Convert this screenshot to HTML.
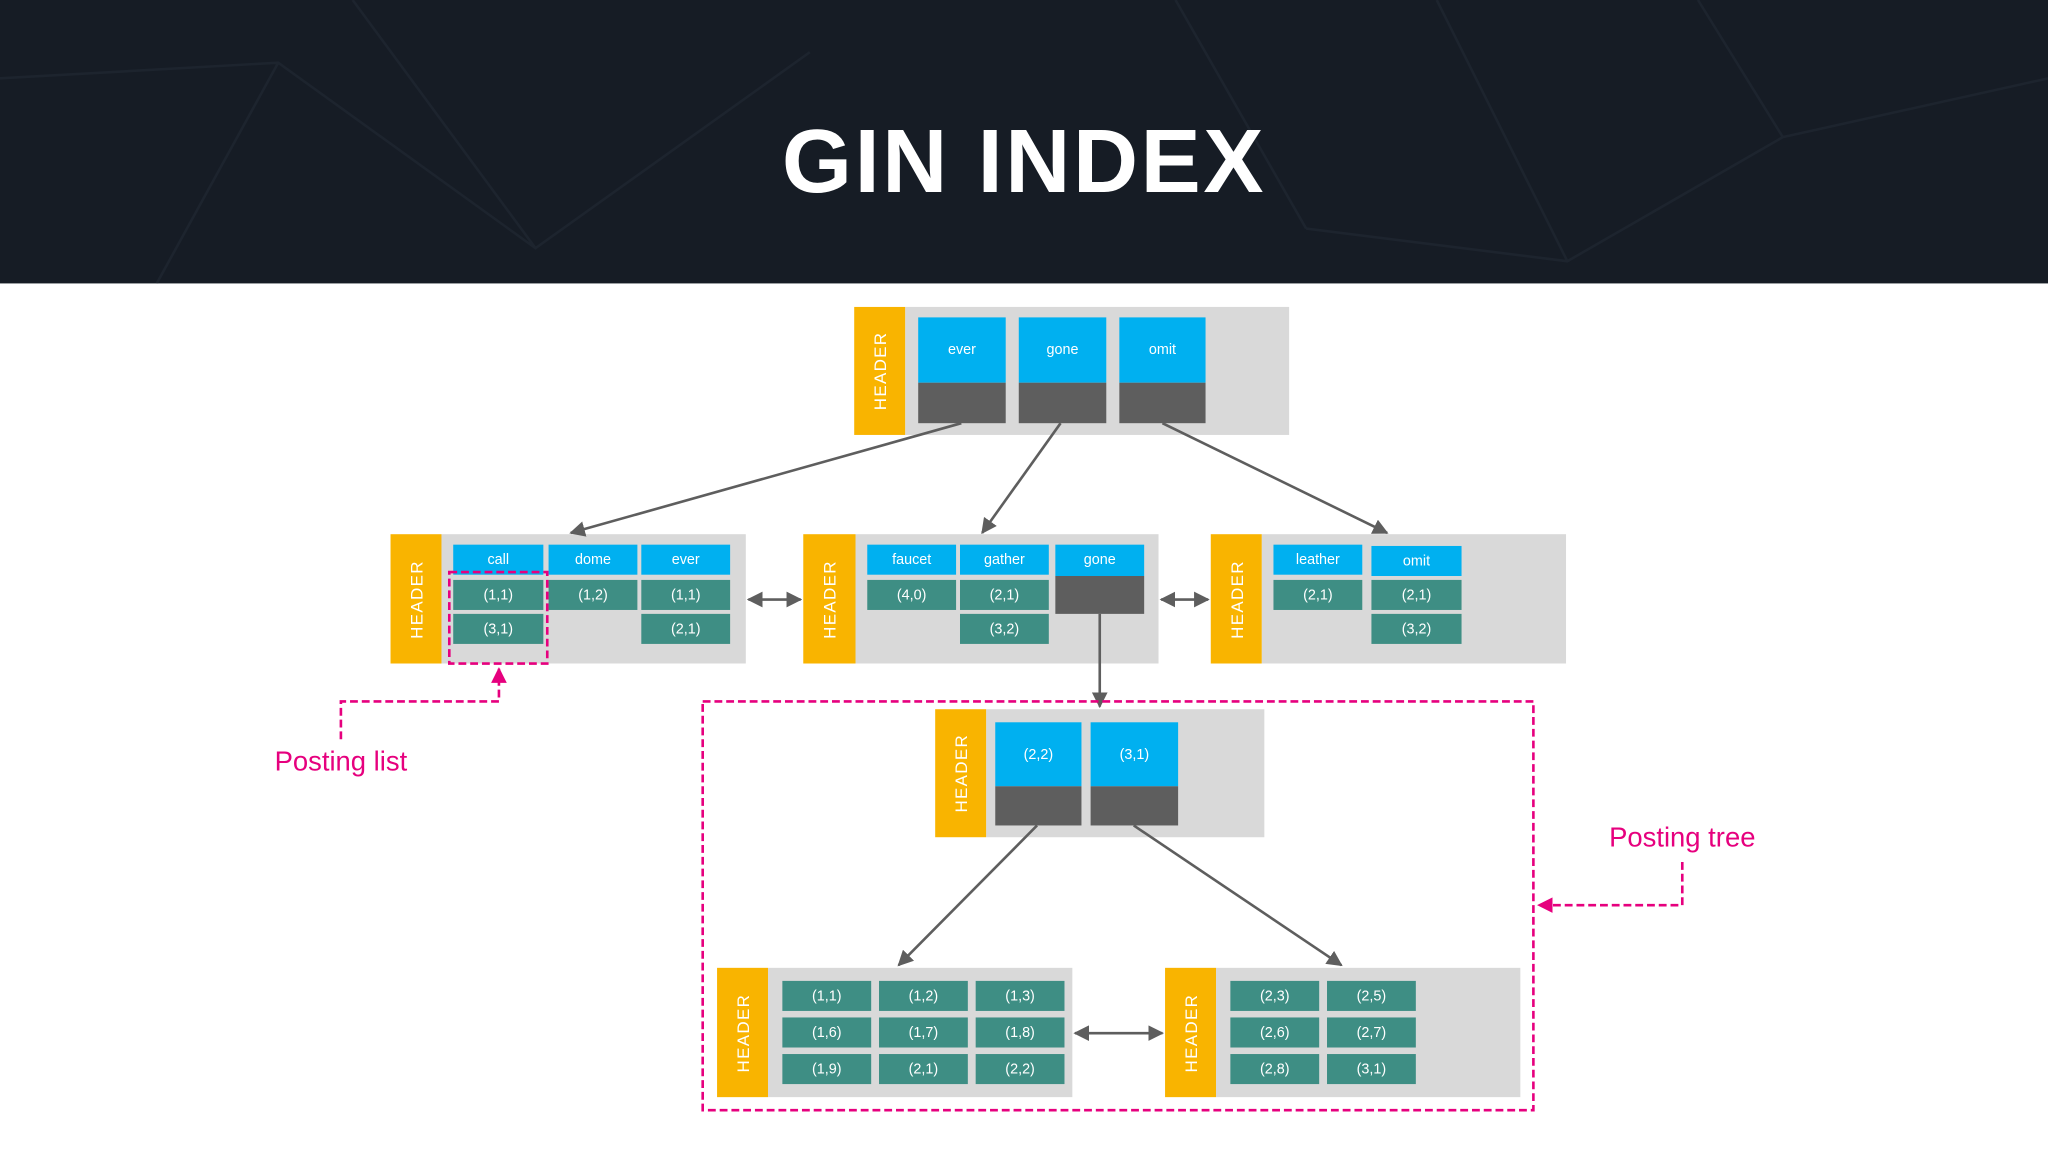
<!DOCTYPE html>
<html><head><meta charset="utf-8"><style>
html,body{margin:0;padding:0;width:2048px;height:1152px;overflow:hidden;background:#fff}
#c{position:absolute;left:0;top:0;width:1568px;height:882px;transform:scale(1.30612);transform-origin:0 0;font-family:"Liberation Sans",sans-serif}
.a{position:absolute;box-sizing:border-box}
.hd{background:#f9b400;color:#fff;font-size:13px}
.hd span{position:absolute;left:50%;top:50%;transform:translate(-50%,-50%) rotate(-90deg);letter-spacing:1px}
.g{background:#d9d9d9}
.b{background:#00b0f0;color:#fff;font-size:11px;display:flex;align-items:center;justify-content:center}
.t{background:#3e8e84;color:#fff;font-size:11px;display:flex;align-items:center;justify-content:center}
.k{background:#5e5e5e}
</style></head><body><div id="c">
<div class="a" style="left:0;top:0;width:1568px;height:217px;background:#161c25"></div>
<svg class="a" style="left:0;top:0" width="1568" height="217"><g stroke="#1d242e" stroke-width="2" fill="none"><path d="M0 60 L213 48 L410 190 L620 40 M213 48 L120 217 M410 190 L270 0 M1000 175 L1200 200 L1365 105 L1568 60 M1000 175 L900 0 M1365 105 L1300 0 M1200 200 L1100 0"/></g></svg>
<div class="a" style="left:0;top:84px;width:1568px;text-align:center;color:#fff;font-size:69px;font-weight:900;letter-spacing:2px">GIN INDEX</div>

<!-- root -->
<div class="a g" style="left:693px;top:235px;width:294px;height:98px"></div>
<div class="a hd" style="left:654px;top:235px;width:39px;height:98px"><span>HEADER</span></div>
<div class="a b" style="left:703px;top:243px;width:67px;height:50px">ever</div><div class="a k" style="left:703px;top:293px;width:67px;height:31px"></div>
<div class="a b" style="left:780px;top:243px;width:67px;height:50px">gone</div><div class="a k" style="left:780px;top:293px;width:67px;height:31px"></div>
<div class="a b" style="left:857px;top:243px;width:66px;height:50px">omit</div><div class="a k" style="left:857px;top:293px;width:66px;height:31px"></div>

<!-- node A -->
<div class="a g" style="left:338px;top:409px;width:233px;height:99px"></div>
<div class="a hd" style="left:299px;top:409px;width:39px;height:99px"><span>HEADER</span></div>
<div class="a b" style="left:347px;top:417px;width:69px;height:23px">call</div>
<div class="a b" style="left:420px;top:417px;width:68px;height:23px">dome</div>
<div class="a b" style="left:491px;top:417px;width:68px;height:23px">ever</div>
<div class="a t" style="left:347px;top:444px;width:69px;height:23px">(1,1)</div>
<div class="a t" style="left:347px;top:470px;width:69px;height:23px">(3,1)</div>
<div class="a t" style="left:420px;top:444px;width:68px;height:23px">(1,2)</div>
<div class="a t" style="left:491px;top:444px;width:68px;height:23px">(1,1)</div>
<div class="a t" style="left:491px;top:470px;width:68px;height:23px">(2,1)</div>
<!-- node B -->
<div class="a g" style="left:655px;top:409px;width:232px;height:99px"></div>
<div class="a hd" style="left:615px;top:409px;width:40px;height:99px"><span>HEADER</span></div>
<div class="a b" style="left:664px;top:417px;width:68px;height:23px">faucet</div>
<div class="a b" style="left:735px;top:417px;width:68px;height:23px">gather</div>
<div class="a b" style="left:808px;top:417px;width:68px;height:24px">gone</div>
<div class="a k" style="left:808px;top:441px;width:68px;height:29px"></div>
<div class="a t" style="left:664px;top:444px;width:68px;height:23px">(4,0)</div>
<div class="a t" style="left:735px;top:444px;width:68px;height:23px">(2,1)</div>
<div class="a t" style="left:735px;top:470px;width:68px;height:23px">(3,2)</div>
<!-- node C -->
<div class="a g" style="left:966px;top:409px;width:233px;height:99px"></div>
<div class="a hd" style="left:927px;top:409px;width:39px;height:99px"><span>HEADER</span></div>
<div class="a b" style="left:975px;top:417px;width:68px;height:23px">leather</div>
<div class="a b" style="left:1050px;top:418px;width:69px;height:23px">omit</div>
<div class="a t" style="left:975px;top:444px;width:68px;height:23px">(2,1)</div>
<div class="a t" style="left:1050px;top:444px;width:69px;height:23px">(2,1)</div>
<div class="a t" style="left:1050px;top:470px;width:69px;height:23px">(3,2)</div>

<!-- sub root -->
<div class="a g" style="left:755px;top:543px;width:213px;height:98px"></div>
<div class="a hd" style="left:716px;top:543px;width:39px;height:98px"><span>HEADER</span></div>
<div class="a b" style="left:762px;top:553px;width:66px;height:49px">(2,2)</div><div class="a k" style="left:762px;top:602px;width:66px;height:30px"></div>
<div class="a b" style="left:835px;top:553px;width:67px;height:49px">(3,1)</div><div class="a k" style="left:835px;top:602px;width:67px;height:30px"></div>

<!-- bottom left -->
<div class="a g" style="left:588px;top:741px;width:233px;height:99px"></div>
<div class="a hd" style="left:549px;top:741px;width:39px;height:99px"><span>HEADER</span></div>
<div class="a t" style="left:599px;top:751px;width:68px;height:23px">(1,1)</div>
<div class="a t" style="left:673px;top:751px;width:68px;height:23px">(1,2)</div>
<div class="a t" style="left:747px;top:751px;width:68px;height:23px">(1,3)</div>
<div class="a t" style="left:599px;top:779px;width:68px;height:23px">(1,6)</div>
<div class="a t" style="left:673px;top:779px;width:68px;height:23px">(1,7)</div>
<div class="a t" style="left:747px;top:779px;width:68px;height:23px">(1,8)</div>
<div class="a t" style="left:599px;top:807px;width:68px;height:23px">(1,9)</div>
<div class="a t" style="left:673px;top:807px;width:68px;height:23px">(2,1)</div>
<div class="a t" style="left:747px;top:807px;width:68px;height:23px">(2,2)</div>
<!-- bottom right -->
<div class="a g" style="left:931px;top:741px;width:233px;height:99px"></div>
<div class="a hd" style="left:892px;top:741px;width:39px;height:99px"><span>HEADER</span></div>
<div class="a t" style="left:942px;top:751px;width:68px;height:23px">(2,3)</div>
<div class="a t" style="left:1016px;top:751px;width:68px;height:23px">(2,5)</div>
<div class="a t" style="left:942px;top:779px;width:68px;height:23px">(2,6)</div>
<div class="a t" style="left:1016px;top:779px;width:68px;height:23px">(2,7)</div>
<div class="a t" style="left:942px;top:807px;width:68px;height:23px">(2,8)</div>
<div class="a t" style="left:1016px;top:807px;width:68px;height:23px">(3,1)</div>

<svg class="a" style="left:0;top:0" width="1568" height="882">
<defs>
<marker id="m" viewBox="0 0 10 10" refX="9" refY="5" markerWidth="6" markerHeight="6" orient="auto-start-reverse"><path d="M0 0L10 5L0 10z" fill="#5e5e5e"/></marker>
<marker id="p" viewBox="0 0 10 10" refX="9" refY="5" markerWidth="6" markerHeight="6" orient="auto"><path d="M0 0L10 5L0 10z" fill="#e6007e"/></marker>
</defs>
<g stroke="#5e5e5e" stroke-width="2" fill="none">
<line x1="736" y1="324" x2="437" y2="408" marker-end="url(#m)"/>
<line x1="812" y1="324" x2="752" y2="408" marker-end="url(#m)"/>
<line x1="890" y1="324" x2="1062" y2="408" marker-end="url(#m)"/>
<line x1="573" y1="459" x2="613" y2="459" marker-start="url(#m)" marker-end="url(#m)"/>
<line x1="889" y1="459" x2="925" y2="459" marker-start="url(#m)" marker-end="url(#m)"/>
<line x1="842" y1="470" x2="842" y2="541" marker-end="url(#m)"/>
<line x1="794" y1="632" x2="688" y2="739" marker-end="url(#m)"/>
<line x1="868" y1="632" x2="1027" y2="739" marker-end="url(#m)"/>
<line x1="823" y1="791" x2="890" y2="791" marker-start="url(#m)" marker-end="url(#m)"/>
</g>
<g stroke="#e6007e" stroke-width="2" fill="none" stroke-dasharray="6,3">
<rect x="538" y="537" width="636" height="313"/>
<rect x="344" y="438" width="75" height="70"/>
<path d="M261 566 V537 H382 V512" marker-end="url(#p)"/>
<path d="M1288 660 V693 H1178" marker-end="url(#p)"/>
</g>
</svg>
<div class="a" style="left:181px;top:572px;width:160px;text-align:center;color:#e6007e;font-size:21px">Posting list</div>
<div class="a" style="left:1203px;top:630px;width:170px;text-align:center;color:#e6007e;font-size:21px">Posting tree</div>
</div></body></html>
